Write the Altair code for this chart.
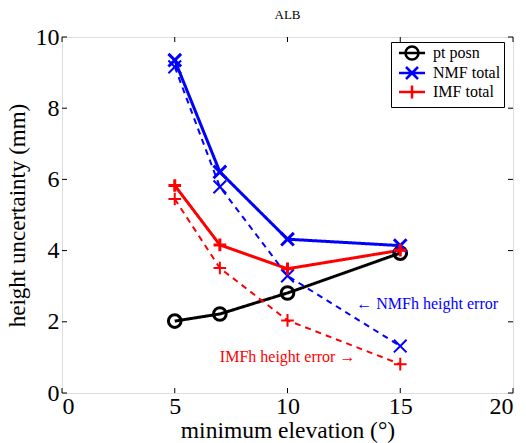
import altair as alt
import pandas as pd

# ---- data ----
elev = [5, 7, 10, 15]
pt_posn = [2.02, 2.22, 2.81, 3.93]
nmf_total = [9.35, 6.21, 4.32, 4.14]
imf_total = [5.83, 4.16, 3.49, 4.01]
nmfh_height = [9.16, 5.79, 3.29, 1.32]
imfh_height = [5.45, 3.51, 2.04, 0.81]

series_names = ["pt posn", "NMF total", "IMF total"]
series_colors = ["#000000", "#0000ff", "#ff0000"]
x_ticks = [0, 5, 10, 15, 20]
y_ticks = [0, 2, 4, 6, 8, 10]

ann_text = ["\u2190 NMFh height error", "IMFh height error \u2192"]
ann_x = [13.05, 7.0]
ann_y = [2.5, 1.02]
ann_color = ["#0000ff", "#ff0000"]

W, H = 451, 356
FONT = "Liberation Serif, Times New Roman, serif"

rows = []
for name, kind, vals in [
    ("pt posn", "total", pt_posn),
    ("NMF total", "total", nmf_total),
    ("IMF total", "total", imf_total),
    ("NMF total", "height", nmfh_height),
    ("IMF total", "height", imfh_height),
]:
    for x, y in zip(elev, vals):
        rows.append({"series": name, "kind": kind, "elev": x, "value": y})
df = pd.DataFrame(rows)

ann_df = pd.DataFrame({"text": ann_text, "x": ann_x, "y": ann_y, "color": ann_color})
xt_df = pd.DataFrame({"t": x_ticks})
yt_df = pd.DataFrame({"t": y_ticks})

circle_p = "M1,0A1,1 0 1,1 -1,0A1,1 0 1,1 1,0Z"
x_p = "M-1,-1L1,1M-1,1L1,-1"
plus_p = "M-1,0L1,0M0,-1L0,1"

# legend symbols: line segment through the marker (size 100 -> unit = 5 px)
leg_circle = "M-2.6,0L2.6,0M1.3,0A1.3,1.3 0 1,1 -1.3,0A1.3,1.3 0 1,1 1.3,0"
leg_x = "M-2.6,0L2.6,0M-1.2,-1.2L1.2,1.2M-1.2,1.2L1.2,-1.2"
leg_plus = "M-2.6,0L2.6,0M0,-1.3L0,1.3"

xscale = alt.Scale(domain=[0, 20], nice=False, zero=False)
yscale = alt.Scale(domain=[0, 10], nice=False, zero=False)
cscale = alt.Scale(domain=series_names, range=series_colors)
sscale = alt.Scale(domain=series_names, range=[leg_circle, leg_x, leg_plus])

legend = alt.Legend(
    title=None,
    orient="none",
    legendX=329,
    legendY=5,
    padding=3,
    strokeColor="black",
    fillColor="white",
    labelFont=FONT,
    labelFontSize=16,
    labelColor="black",
    labelOffset=13,
    symbolOffset=10,
    rowPadding=-5,
    symbolSize=100,
    symbolStrokeWidth=2.5,
    symbolFillColor="transparent",
    symbolOpacity=1,
)

xaxis = alt.Axis(
    values=x_ticks, ticks=False, tickSize=0, domain=False, grid=False,
    labelFont=FONT, labelFontSize=24, labelColor="black", labelPadding=1,
    title="minimum elevation (\u00b0)", titleFont=FONT, titleFontSize=23.5,
    titleFontWeight="normal", titleColor="black", titlePadding=0,
)
yaxis = alt.Axis(
    values=y_ticks, ticks=False, tickSize=0, domain=False, grid=False,
    labelFont=FONT, labelFontSize=24, labelColor="black", labelPadding=3,
    title="height uncertainty (mm)", titleFont=FONT, titleFontSize=23,
    titleFontWeight="normal", titleColor="black", titlePadding=6,
)

base = alt.Chart(df)
sw_scale = alt.Scale(domain=["total", "height"], range=[3, 2])

lines = base.mark_line().encode(
    x=alt.X("elev:Q", scale=xscale, axis=xaxis),
    y=alt.Y("value:Q", scale=yscale, axis=yaxis),
    color=alt.Color("series:N", scale=cscale, legend=legend),
    detail="kind:N",
    strokeDash=alt.StrokeDash("kind:N", scale=alt.Scale(domain=["total", "height"], range=[[1, 0], [6, 5]]), legend=None),
    strokeWidth=alt.StrokeWidth("kind:N", scale=sw_scale, legend=None),
)

# legend-only layer: no rows, gives the legend its line+marker symbols
legend_layer = base.transform_filter("false").mark_point(filled=False).encode(
    x=alt.X("elev:Q", scale=xscale),
    y=alt.Y("value:Q", scale=yscale),
    color=alt.Color("series:N", scale=cscale, legend=legend),
    shape=alt.Shape("series:N", scale=sscale, legend=legend),
)

def marker_layer(name, path):
    return base.transform_filter(alt.datum.series == name).mark_point(
        filled=False, opacity=1, size=160, shape=path
    ).encode(
        x=alt.X("elev:Q", scale=xscale),
        y=alt.Y("value:Q", scale=yscale),
        color=alt.Color("series:N", scale=cscale, legend=legend),
        strokeWidth=alt.StrokeWidth("kind:N", scale=sw_scale, legend=None),
    )

pts_c = marker_layer("pt posn", circle_p)
pts_x = marker_layer("NMF total", x_p)
pts_p = marker_layer("IMF total", plus_p)

ann = alt.Chart(ann_df).mark_text(align="left", baseline="middle", font=FONT, fontSize=16).encode(
    x=alt.X("x:Q", scale=xscale),
    y=alt.Y("y:Q", scale=yscale),
    text="text:N",
    color=alt.Color("color:N", scale=None),
)

tick_style = dict(color="black", strokeWidth=1)
xt_bottom = alt.Chart(xt_df).mark_rule(**tick_style).encode(
    x=alt.X("t:Q", scale=xscale), y=alt.value(H), y2=alt.value(H - 5))
xt_top = alt.Chart(xt_df).mark_rule(**tick_style).encode(
    x=alt.X("t:Q", scale=xscale), y=alt.value(0), y2=alt.value(5))
yt_left = alt.Chart(yt_df).mark_rule(**tick_style).encode(
    y=alt.Y("t:Q", scale=yscale), x=alt.value(0), x2=alt.value(5))
yt_right = alt.Chart(yt_df).mark_rule(**tick_style).encode(
    y=alt.Y("t:Q", scale=yscale), x=alt.value(W), x2=alt.value(W - 5))

chart = alt.layer(
    xt_bottom, xt_top, yt_left, yt_right, lines, pts_c, pts_x, pts_p, ann, legend_layer
).properties(
    width=W, height=H,
    title=alt.TitleParams("ALB", font=FONT, fontSize=13, fontWeight="normal", color="black", offset=3),
    autosize=alt.AutoSizeParams(type="none"),
    padding={"left": 62, "top": 37, "right": 13, "bottom": 50},
).configure_view(
    stroke="black", strokeWidth=1.5
).configure(background="white")

chart.save("out.html", embed_options={"renderer": "svg", "actions": False})
